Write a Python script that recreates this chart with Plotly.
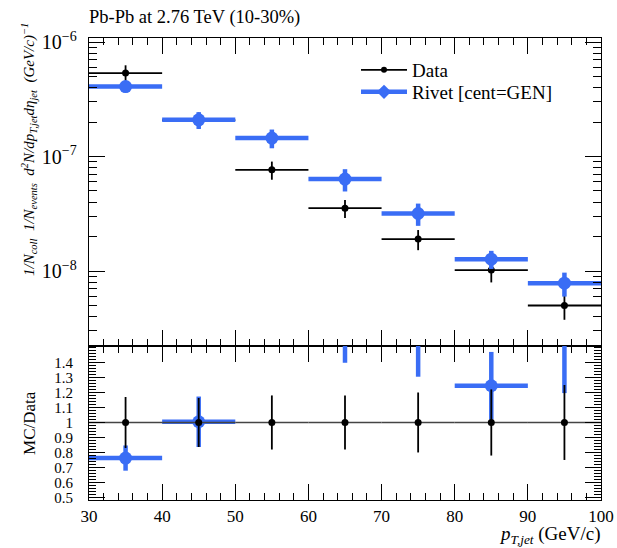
import plotly.graph_objects as go
from plotly.subplots import make_subplots

# ---- data ----
bin_lo = [30, 40, 50, 60, 70, 80, 90]
bin_hi = [40, 50, 60, 70, 80, 90, 100]
data_y = [5.35e-7, 2.08e-7, 7.65e-8, 3.54e-8, 1.90e-8, 1.02e-8, 5.0e-9]
data_err = [9.1e-8, 3.4e-8, 1.38e-8, 6.4e-9, 3.8e-9, 2.25e-9, 1.25e-9]
mc_y = [4.08e-7, 2.09e-7, 1.45e-7, 6.35e-8, 3.18e-8, 1.27e-8, 7.83e-9]
mc_err = [4.5e-8, 3.5e-8, 2.7e-8, 1.4e-8, 7.0e-9, 2.3e-9, 1.85e-9]
ratio_ticks = [0.5, 0.6, 0.7, 0.8, 0.9, 1, 1.1, 1.2, 1.3, 1.4]
ratio_ticktext = ["0.5", "0.6", "0.7", "0.8", "0.9", "1", "1.1", "1.2", "1.3", "1.4"]
x_ticks = [30, 40, 50, 60, 70, 80, 90, 100]

xc = [(a + b) / 2 for a, b in zip(bin_lo, bin_hi)]
xw = [(b - a) / 2 for a, b in zip(bin_lo, bin_hi)]
ratio = [m / d for m, d in zip(mc_y, data_y)]
ratio_err = [e / d for e, d in zip(mc_err, data_y)]
ones = [1.0 for _ in data_y]
data_rel = [e / d for e, d in zip(data_err, data_y)]

BLUE = "#3a6df5"
BLACK = "#000000"
FONT = "Liberation Serif"

fig = make_subplots(rows=2, cols=1, shared_xaxes=True, vertical_spacing=0,
                    row_heights=[0.6667, 0.3333])

# top panel
fig.add_trace(go.Scatter(
    x=xc, y=data_y, mode="markers",
    marker=dict(color=BLACK, size=7),
    error_x=dict(type="data", array=xw, width=0, thickness=1.8, color=BLACK),
    error_y=dict(type="data", array=data_err, width=0, thickness=1.8, color=BLACK),
    showlegend=False), row=1, col=1)
fig.add_trace(go.Scatter(
    x=xc, y=mc_y, mode="markers",
    marker=dict(color=BLUE, size=13),
    error_x=dict(type="data", array=xw, width=0, thickness=4.5, color=BLUE),
    error_y=dict(type="data", array=mc_err, width=0, thickness=4.5, color=BLUE),
    showlegend=False), row=1, col=1)

# legend proxies (two legends for tight spacing)
fig.add_trace(go.Scatter(x=[None], y=[None], mode="lines+markers", name="Data",
                         line=dict(color=BLACK, width=1.8),
                         marker=dict(color=BLACK, size=6), legend="legend"), row=1, col=1)
fig.add_trace(go.Scatter(x=[None], y=[None], mode="lines+markers", name="Rivet [cent=GEN]",
                         line=dict(color=BLUE, width=4.5),
                         marker=dict(color=BLUE, size=11, symbol="diamond"),
                         legend="legend2"), row=1, col=1)

# ratio panel
fig.add_trace(go.Scatter(
    x=xc, y=ratio, mode="markers",
    marker=dict(color=BLUE, size=13),
    error_x=dict(type="data", array=xw, width=0, thickness=4.5, color=BLUE),
    error_y=dict(type="data", array=ratio_err, width=0, thickness=4.5, color=BLUE),
    showlegend=False), row=2, col=1)
fig.add_trace(go.Scatter(
    x=xc, y=ones, mode="markers",
    marker=dict(color=BLACK, size=7),
    error_x=dict(type="data", array=xw, width=0, thickness=1.4, color="#444444"),
    error_y=dict(type="data", array=data_rel, width=0, thickness=1.8, color=BLACK),
    showlegend=False), row=2, col=1)

axis_common = dict(showline=True, linecolor=BLACK, linewidth=1.2, mirror="allticks",
                   ticks="inside", tickcolor=BLACK, showgrid=False, zeroline=False,
                   automargin=False)

fig.update_xaxes(range=[30, 100], tickvals=x_ticks, ticklen=16, tickwidth=1,
                 minor=dict(ticks="inside", ticklen=7, dtick=2, tick0=30, tickcolor=BLACK, showgrid=False),
                 **axis_common)
fig.update_xaxes(showticklabels=False, row=1, col=1)
fig.update_xaxes(showticklabels=True, ticktext=[str(v) for v in x_ticks],
                 tickfont=dict(family=FONT, size=17, color=BLACK), row=2, col=1)

fig.update_yaxes(type="log", range=[-8.655, -5.965], dtick=1, exponentformat="power",
                 ticklen=16, tickwidth=1,
                 tickfont=dict(family=FONT, size=16, color=BLACK),
                 minor=dict(ticks="inside", ticklen=8, dtick="D1", tickcolor=BLACK, showgrid=False),
                 ticklabelstandoff=8,
                 row=1, col=1, **axis_common)
fig.update_yaxes(range=[0.483, 1.51], tickvals=ratio_ticks, ticktext=ratio_ticktext,
                 ticklen=16, tickwidth=1,
                 tickfont=dict(family=FONT, size=15, color=BLACK),
                 minor=dict(ticks="inside", ticklen=7, dtick=0.02, tick0=0.5, tickcolor=BLACK, showgrid=False),
                 ticklabelstandoff=12,
                 row=2, col=1, **axis_common)

ylab = ("<i>1/N<sub>coll</sub>  1/N<sub>events</sub>  d<sup>2</sup>N/dp<sub>T,jet</sub>dη<sub>jet</sub>"
        "  (GeV/c)<sup>−1</sup></i>")
fig.add_annotation(text=ylab, xref="paper", yref="paper", x=0, xshift=-60, y=1, yshift=-112,
                   xanchor="center", yanchor="middle", textangle=-90, showarrow=False,
                   font=dict(family=FONT, size=15, color=BLACK))
fig.add_annotation(text="MC/Data", xref="paper", yref="paper", x=0, xshift=-59, y=0.1667,
                   xanchor="center", yanchor="middle", textangle=-90, showarrow=False,
                   font=dict(family=FONT, size=17, color=BLACK))
fig.add_annotation(text="<i>p<sub>T,jet</sub></i> (GeV/c)", xref="paper", yref="paper",
                   x=1.0, xshift=2, y=0, yshift=-35, xanchor="right", yanchor="middle", showarrow=False,
                   font=dict(family=FONT, size=19, color=BLACK))
fig.add_annotation(text="Pb-Pb at 2.76 TeV (10-30%)", xref="paper", yref="paper",
                   x=0.0, xshift=-2, y=1.0, yshift=21, xanchor="left", yanchor="middle", showarrow=False,
                   font=dict(family=FONT, size=18.5, color=BLACK))

leg_common = dict(xanchor="left", yanchor="middle", bgcolor="rgba(0,0,0,0)",
                  font=dict(family=FONT, size=19, color=BLACK), itemwidth=46)
fig.update_layout(
    width=617, height=548,
    margin=dict(l=89, r=16, t=38, b=48),
    paper_bgcolor="white", plot_bgcolor="white",
    legend=dict(x=0.5215, y=1 - 32 / 462, **leg_common),
    legend2=dict(x=0.5215, y=1 - 54 / 462, **leg_common),
)

fig.write_html("out.html")
